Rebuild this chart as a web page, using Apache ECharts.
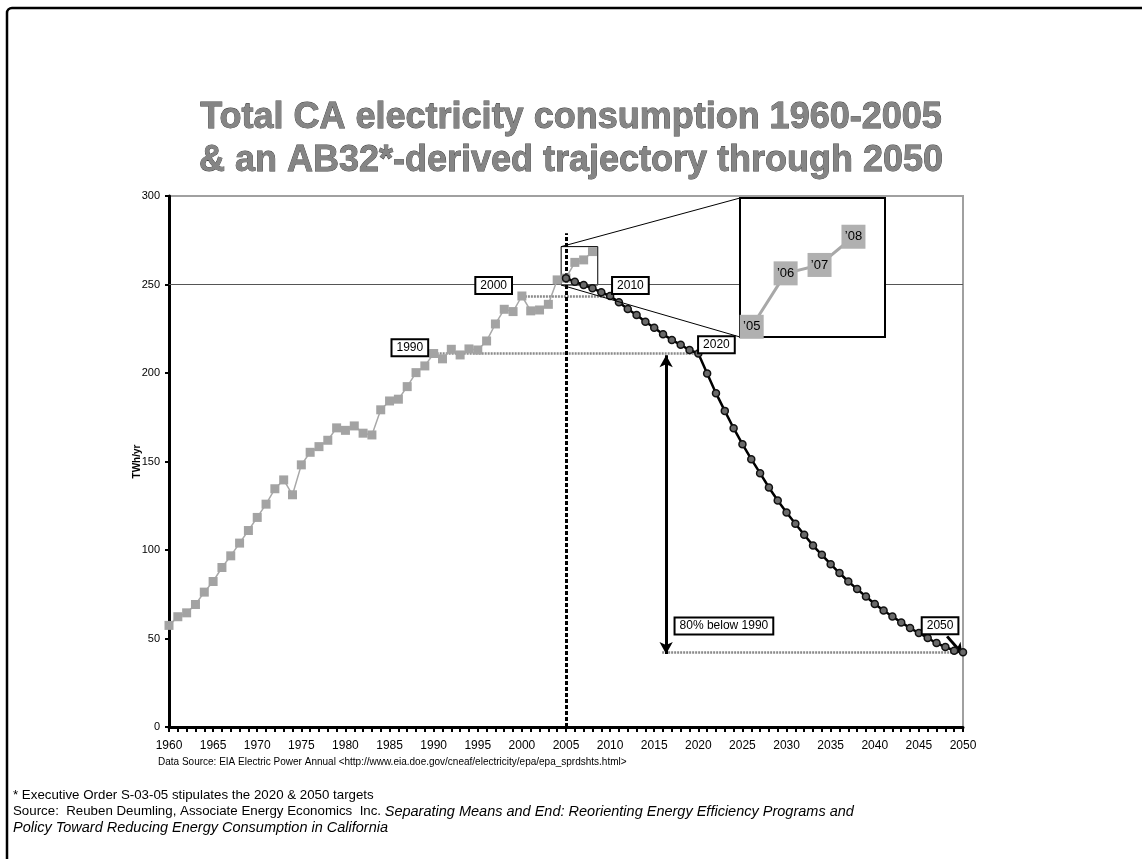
<!DOCTYPE html>
<html>
<head>
<meta charset="utf-8">
<title>Total CA electricity consumption</title>
<script src="https://cdn.jsdelivr.net/npm/echarts@6/dist/echarts.min.js"></script>
<style>
  html, body { margin: 0; padding: 0; background: #fff; }
  #chart { width: 1142px; height: 859px; }
</style>
</head>
<body>
<div id="chart"></div>
<script>
// total CA consumption, TWh/yr, one value per year from 1960
const histStart = 1960
const histValues = [
  57.4, 62.3, 64.5, 69.2, 76.2, 82.2, 90.1, 96.7, 103.9, 111.0,
  118.4, 125.9, 134.6, 139.6, 131.2, 148.1, 155.2, 158.4, 162.0, 169.0,
  167.6, 170.1, 166.0, 165.0, 179.2, 184.2, 185.2, 192.3, 200.2, 204.0,
  211.0, 208.0, 213.4, 210.2, 213.6, 213.0, 218.1, 227.7, 236.0, 234.7,
  243.5, 235.1, 235.6, 238.8, 252.6, 253.6, 262.5, 263.9, 268.6
]

// AB32-derived trajectory, one value per year from 2005
const trajStart = 2005
const trajValues = [
  253.6, 251.6, 249.7, 247.9, 245.6, 243.5, 240.0, 236.2, 232.8, 229.0,
  225.6, 221.9, 218.7, 215.9, 213.0, 211.0, 199.7, 188.6, 178.6, 168.8,
  159.8, 151.3, 143.4, 135.3, 128.0, 121.2, 114.8, 108.6, 102.5, 97.3,
  92.0, 87.0, 82.2, 77.9, 73.7, 69.5, 65.8, 62.4, 59.1, 55.9,
  53.1, 50.3, 47.4, 45.2, 43.1, 42.2
]

// inset (zoom on 2005-2008)
const insetStart = 2005
const insetLabels = ['\u201905', '\u201906', '\u201907', '\u201908']

// reference levels
const level1990 = 211.0
const level2000 = 243.5
const level2050 = 42.2

const histData = histValues.map((v, i) => [histStart + i, v])
const trajData = trajValues.map((v, i) => [trajStart + i, v])
const insetData = histData.filter(d => d[0] >= insetStart)

const FONT = "'Liberation Sans', Arial, sans-serif"

const insetBox = { left: 740, top: 198, width: 145, height: 139 }

const boxLabel = {
  show: true,
  position: 'inside',
  formatter: '{b}',
  color: '#000',
  fontFamily: FONT,
  fontSize: 12,
  backgroundColor: '#fff',
  borderColor: '#000',
  borderWidth: 2,
  padding: [2, 4, 1, 4]
}

const chart = echarts.init(document.getElementById('chart'))

chart.setOption({
  animation: false,
  backgroundColor: '#fff',
  title: {
    text: 'Total CA electricity consumption 1960-2005\n& an AB32*-derived trajectory through 2050',
    left: 'center',
    top: 92,
    textStyle: {
      fontFamily: FONT,
      fontSize: 36,
      fontWeight: 'bold',
      color: '#858585',
      textBorderColor: '#3a3a3a',
      textBorderWidth: 0.8,
      lineHeight: 43
    }
  },
  grid: [
    { left: 169, top: 196, width: 794, height: 531, show: true, borderColor: '#a0a0a0', borderWidth: 2 },
    Object.assign({ show: false }, insetBox)
  ],
  xAxis: [
    {
      type: 'value',
      gridIndex: 0,
      min: 1960,
      max: 2050,
      interval: 5,
      axisLine: { show: true, onZero: false, lineStyle: { color: '#000', width: 3 } },
      axisTick: { show: true, length: 5, lineStyle: { color: '#000', width: 2 } },
      minorTick: { show: true, splitNumber: 5, length: 5, lineStyle: { color: '#000', width: 2 } },
      splitLine: { show: false },
      axisLabel: { color: '#000', fontFamily: FONT, fontSize: 12, margin: 13, formatter: v => String(v) }
    },
    { type: 'value', gridIndex: 1, min: 2004.655, max: 2008.93, show: false }
  ],
  yAxis: [
    {
      type: 'value',
      gridIndex: 0,
      min: 0,
      max: 300,
      interval: 50,
      name: 'TWh/yr',
      nameLocation: 'middle',
      nameRotate: 90,
      nameGap: 27,
      nameMoveOverlap: false,
      nameTextStyle: { fontFamily: FONT, fontSize: 10, fontWeight: 'bold', color: '#000' },
      axisLine: { show: true, lineStyle: { color: '#000', width: 3 } },
      axisTick: { show: true, length: 4, lineStyle: { color: '#000', width: 2 } },
      splitLine: { show: false },
      axisLabel: { color: '#000', fontFamily: FONT, fontSize: 11, margin: 9 }
    },
    { type: 'value', gridIndex: 1, min: 251.9, max: 275.05, show: false }
  ],
  series: [
    {
      // reference lines + arrows
      name: 'annotations',
      type: 'line',
      xAxisIndex: 0,
      yAxisIndex: 0,
      data: [],
      z: 3,
      markLine: {
        silent: true,
        symbol: 'none',
        z: 3,
        label: { show: false },
        data: [
          [{ coord: [1960, 250], lineStyle: { color: '#555', width: 1, type: 'solid' } }, { coord: [2050, 250] }],
          [{ coord: [1990, level1990], lineStyle: { color: '#8a8a8a', width: 2.5, type: [2, 1] } }, { coord: [2020, level1990] }],
          [{ coord: [2000, level2000], lineStyle: { color: '#8a8a8a', width: 2.5, type: [2, 1] } }, { coord: [2010, level2000] }],
          [{ coord: [2015.9, level2050], lineStyle: { color: '#8a8a8a', width: 2.5, type: [2, 1] } }, { coord: [2050, level2050] }],
          [{ coord: [2005, 0], lineStyle: { color: '#000', width: 3, type: [4, 2] } }, { coord: [2005, 279] }],
          [{ coord: [2016.35, level1990 - 1], symbol: 'arrow', symbolSize: [10, 12], lineStyle: { color: '#000', width: 3, type: 'solid' } },
           { coord: [2016.35, level2050 - 1], symbol: 'arrow', symbolSize: [10, 12] }],
          [{ coord: [2048.2, 51.2], symbol: 'none', lineStyle: { color: '#000', width: 3, type: 'solid' } },
           { coord: [2049.9, 41.5], symbol: 'arrow', symbolSize: [10, 10] }]
        ]
      },
      markArea: {
        silent: true,
        itemStyle: { color: 'rgba(0,0,0,0)', borderColor: '#000', borderWidth: 1 },
        data: [[{ coord: [2004.45, 249.7] }, { coord: [2008.6, 271.4] }]]
      }
    },
    {
      name: 'Historical',
      type: 'line',
      xAxisIndex: 0,
      yAxisIndex: 0,
      data: histData,
      symbol: 'rect',
      symbolSize: 9,
      itemStyle: { color: '#a3a3a3' },
      lineStyle: { color: '#a8a8a8', width: 1.5 },
      z: 4
    },
    {
      name: 'AB32 trajectory',
      type: 'line',
      xAxisIndex: 0,
      yAxisIndex: 0,
      data: trajData,
      symbol: 'circle',
      symbolSize: 7,
      itemStyle: { color: '#6a6a6a', borderColor: '#111', borderWidth: 1.5 },
      lineStyle: { color: '#000', width: 2.5 },
      z: 5
    },
    {
      name: 'labels',
      type: 'line',
      xAxisIndex: 0,
      yAxisIndex: 0,
      data: [],
      z: 7,
      markPoint: {
        silent: true,
        z: 7,
        symbol: 'rect',
        symbolSize: 1,
        itemStyle: { color: 'rgba(0,0,0,0)' },
        label: boxLabel,
        data: [
          { name: '1990', coord: [1987.3, 214.2] },
          { name: '2000', coord: [1996.8, 249.5] },
          { name: '2010', coord: [2012.3, 249.5] },
          { name: '2020', coord: [2022.05, 215.9] },
          { name: '80% below 1990', coord: [2022.9, 57] },
          { name: '2050', coord: [2047.4, 57.2] }
        ]
      }
    },
    {
      name: 'inset',
      type: 'line',
      xAxisIndex: 1,
      yAxisIndex: 1,
      data: insetData,
      symbol: 'rect',
      symbolSize: 24,
      itemStyle: { color: '#b0b0b0' },
      lineStyle: { color: '#a8a8a8', width: 3 },
      label: {
        show: true,
        position: 'inside',
        formatter: p => insetLabels[p.dataIndex],
        color: '#000',
        fontFamily: FONT,
        fontSize: 13
      },
      z: 10
    }
  ],
  graphic: [
    {
      id: 'frame',
      type: 'rect',
      shape: { x: 7, y: 8, width: 1300, height: 1000, r: 5 },
      style: { fill: 'none', stroke: '#000', lineWidth: 2.5 },
      silent: true
    },
    {
      id: 'source',
      type: 'text',
      left: 158,
      top: 757,
      style: {
        text: 'Data Source: EIA Electric Power Annual <http://www.eia.doe.gov/cneaf/electricity/epa/epa_sprdshts.html>',
        fontFamily: FONT,
        fontSize: 10,
        fill: '#000'
      }
    },
    {
      id: 'note',
      type: 'text',
      left: 13,
      top: 789,
      style: {
        text: '{n|* Executive Order S-03-05 stipulates the 2020 & 2050 targets}\n' +
          '{n|Source:  Reuben Deumling, Associate Energy Economics  Inc. }{i|Separating Means and End: Reorienting Energy Efficiency Programs and}\n' +
          '{i|Policy Toward Reducing Energy Consumption in California}',
        fill: '#000',
        rich: {
          n: { fontFamily: FONT, fontSize: 13.3, lineHeight: 16, fill: '#000' },
          i: { fontFamily: FONT, fontSize: 14.5, lineHeight: 16, fontStyle: 'italic', fill: '#000' }
        }
      }
    },
    {
      id: 'insetBox',
      type: 'rect',
      z: 8,
      shape: { x: insetBox.left, y: insetBox.top, width: insetBox.width, height: insetBox.height },
      style: { fill: '#fff', stroke: '#000', lineWidth: 2 },
      silent: true
    }
  ]
})

// lines joining the small box round 2005-2008 to the inset
const cornerTop = chart.convertToPixel({ gridIndex: 0 }, [2004.45, 271.4])
const cornerBottom = chart.convertToPixel({ gridIndex: 0 }, [2004.45, 249.7])
chart.setOption({
  graphic: [
    {
      id: 'linkTop',
      type: 'line',
      z: 6,
      shape: { x1: cornerTop[0], y1: cornerTop[1], x2: insetBox.left, y2: insetBox.top },
      style: { stroke: '#000', lineWidth: 1 },
      silent: true
    },
    {
      id: 'linkBottom',
      type: 'line',
      z: 6,
      shape: { x1: cornerBottom[0], y1: cornerBottom[1], x2: insetBox.left, y2: insetBox.top + insetBox.height },
      style: { stroke: '#000', lineWidth: 1 },
      silent: true
    }
  ]
})
</script>
</body>
</html>
